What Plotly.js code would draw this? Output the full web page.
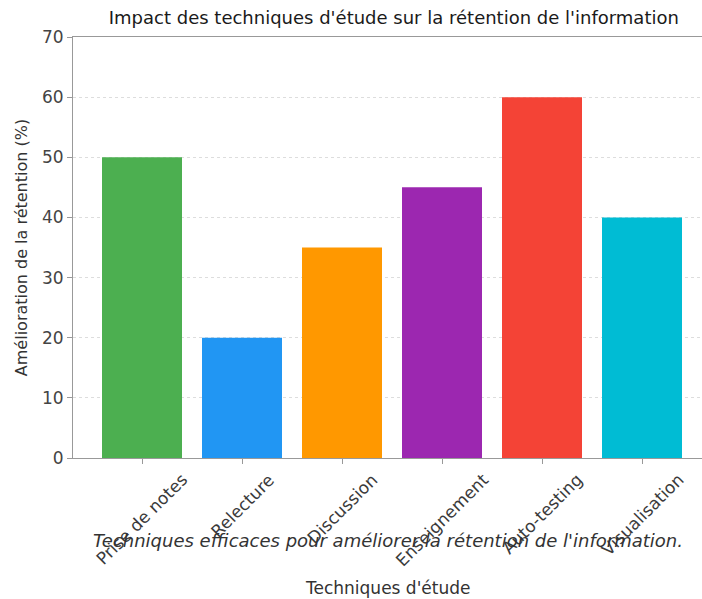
<!DOCTYPE html>
<html>
<head>
<meta charset="utf-8">
<script src="https://cdn.plot.ly/plotly-3.0.1.min.js"></script>
<style>html,body{margin:0;padding:0;background:#fff;}#chart{width:702px;height:599px;}</style>
</head>
<body>
<div id="chart"></div>
<script>
const categories = ["Prise de notes", "Relecture", "Discussion", "Enseignement", "Auto-testing", "Visualisation"];
const values = [50, 20, 35, 45, 60, 40];
const colors = ["#4CAF50", "#2196F3", "#FF9800", "#9C27B0", "#F44336", "#00BCD4"];
const yTicks = [0, 10, 20, 30, 40, 50, 60, 70];
const titleText = "Impact des techniques d'étude sur la rétention de l'information";
const xTitle = "Techniques d'étude";
const yTitle = "Amélioration de la rétention (%)";
const noteText = "Techniques efficaces pour améliorer la rétention de l'information.";

const FONT = "DejaVu Sans, sans-serif";
const idx = categories.map((c, i) => i);

const trace = {
  type: "bar",
  x: idx,
  y: values,
  width: 0.8,
  marker: {color: colors},
  hoverinfo: "x+y"
};

const tickAnnots = categories.map((c, i) => ({
  x: i, xref: "x", y: 0, yref: "y",
  text: c, showarrow: false, textangle: -45,
  yshift: -9, xanchor: "center", yanchor: "top",
  font: {family: FONT, size: 17, color: "#3a3a3a"}
}));

const layout = {
  width: 702, height: 599,
  margin: {l: 73, r: 0, t: 37, b: 141},
  paper_bgcolor: "#fff", plot_bgcolor: "#fff",
  showlegend: false,
  title: {text: titleText, x: 0.561, xanchor: "center", y: 0.971, yanchor: "middle",
          font: {family: FONT, size: 18, color: "#1a1a1a"}},
  xaxis: {
    range: [-0.69, 5.6], tickvals: idx, ticktext: categories.map(() => ""),
    showline: true, linecolor: "#999", linewidth: 1, mirror: true,
    ticks: "outside", ticklen: 5, tickcolor: "#999",
    showgrid: false, zeroline: false
  },
  yaxis: {
    range: [0, 70], tickvals: yTicks,
    showline: true, linecolor: "#999", linewidth: 1,
    ticks: "outside", ticklen: 5, tickcolor: "#999",
    showgrid: true, gridcolor: "#ddd", griddash: "dot", gridwidth: 1,
    zeroline: false,
    tickfont: {family: FONT, size: 17, color: "#444"},
    title: {text: yTitle, standoff: 10, font: {family: FONT, size: 16, color: "#333"}}
  },
  annotations: tickAnnots.concat([{
    x: 0.5, xref: "paper", y: 0, yref: "paper", yshift: -82,
    text: noteText, showarrow: false, xanchor: "center", yanchor: "middle",
    font: {family: FONT, size: 18, color: "#333", style: "italic"}
  }, {
    x: 0.5, xref: "paper", y: 0, yref: "paper", yshift: -130,
    text: xTitle, showarrow: false, xanchor: "center", yanchor: "middle",
    font: {family: FONT, size: 17, color: "#333"}
  }])
};

Plotly.newPlot("chart", [trace], layout, {displayModeBar: false});
</script>
</body>
</html>
